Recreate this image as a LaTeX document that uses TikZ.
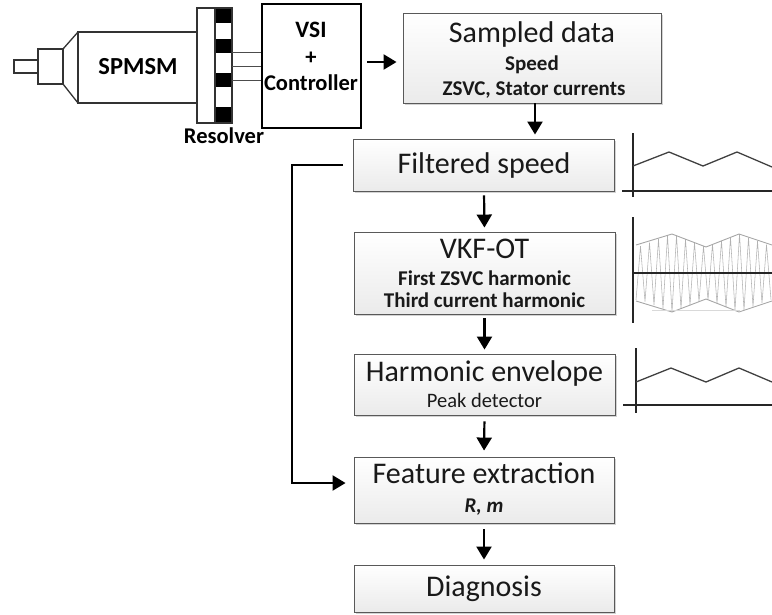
\documentclass[tikz,border=0pt]{standalone}
\usepackage{fontspec}
\setmainfont{Carlito}
\usetikzlibrary{arrows.meta,shadows,calc}

\tikzset{
  stage/.style={draw=gray!70!black, line width=0.9pt, top color=white, bottom color=gray!16,
    drop shadow={shadow xshift=1.6pt, shadow yshift=-1.6pt, opacity=0.35},
    inner sep=0pt, anchor=center},
  title/.style={anchor=base, text=black!90, inner sep=0pt, font=\fontsize{30}{32}\selectfont},
  subbold/.style={anchor=base, text=black!90, inner sep=0pt, font=\fontsize{21}{23}\selectfont\bfseries},
  subplain/.style={anchor=base, text=black!90, inner sep=0pt, font=\fontsize{20.5}{22}\selectfont},
  hwlabel/.style={anchor=base, inner sep=0pt, font=\fontsize{22.5}{24}\selectfont\bfseries},
  arr/.style={line width=2.2pt, -{Triangle[length=13pt,width=15pt]}},
  motorline/.style={draw=black!80, line width=1.3pt},
  axis/.style={line width=1.4pt, black!85},
  trace/.style={line width=1.3pt, black!75, line join=miter},
}

\begin{document}
\begin{tikzpicture}[x=1pt,y=-1pt]
\useasboundingbox (0,0) rectangle (772,614);

% ---------- motor ----------
\draw[motorline] (14,60) rectangle (38,73);
\draw[motorline] (38,49) rectangle (63,84);
\draw[motorline] (63,49) -- (78,32);
\draw[motorline] (63,84) -- (78,103);
\draw[motorline] (78,32) rectangle (197,103);
\node[hwlabel, font=\fontsize{24.5}{26}\selectfont\bfseries] (motorlabel) at (138,74) {SPMSM};

% ---------- resolver ----------
\draw[motorline, fill=white] (197,8) rectangle (215,123);
\draw[motorline, fill=white] (215,8) rectangle (232,123);
\foreach \ya/\yb in {8/23, 39/53, 73/87, 107/123}
  \fill[black] (215,\ya) rectangle (232,\yb);
\draw[motorline] (215,8) rectangle (232,123);
\node[hwlabel] (reslabel) at (224,143) {Resolver};

% ---------- inverter and controller ----------
\node[draw=black, line width=2.2pt, minimum width=99pt, minimum height=124pt, inner sep=0pt]
  (vsi) at (311.5,66) {};
\foreach \yw in {52,66,80}
  \draw[line width=1pt, black!70] (232,\yw) -- (vsi.west |- 0,\yw);
\node[hwlabel, font=\fontsize{23.5}{25}\selectfont\bfseries] (vsit) at (311,37) {VSI};
\node[hwlabel, anchor=center] (plus) at (311,58) {+};
\node[hwlabel] (ctrl) at (311,90) {Controller};

% ---------- processing chain ----------
\node[stage, minimum width=258pt, minimum height=90pt] (sd) at (532,58) {};
\node[title] (sdt) at (532,42) {Sampled data};
\node[subbold] (sd1) at (532,70) {Speed};
\node[subbold] (sd2) at (534,95) {ZSVC, Stator currents};

\node[stage, minimum width=261pt, minimum height=52pt] (fs) at (484,165) {};
\node[title] (fst) at (484,173) {Filtered speed};

\node[stage, minimum width=261pt, minimum height=82pt] (vkf) at (484.5,273) {};
\node[title] (vkft) at (484.5,258) {VKF-OT};
\node[subbold] (vkf1) at (484.5,285) {First ZSVC harmonic};
\node[subbold] (vkf2) at (484.5,307) {Third current harmonic};

\node[stage, minimum width=261pt, minimum height=61pt] (he) at (484.5,384.5) {};
\node[title] (het) at (484.5,381) {Harmonic envelope};
\node[subplain] (he1) at (484.5,407) {Peak detector};

\node[stage, minimum width=260pt, minimum height=66pt] (fe) at (484,490) {};
\node[title] (fet) at (484,483) {Feature extraction};
\node[subbold] (fe1) at (484,512) {\itshape R, m};

\node[stage, minimum width=260pt, minimum height=47pt] (dg) at (484,588.5) {};
\node[title] (dgt) at (484,596) {Diagnosis};

% ---------- connectors ----------
\draw[arr, shorten <=5pt, shorten >=6pt] ([yshift=4pt]vsi.east) -- ([yshift=4pt]vsi.east -| sd.west);
\draw[arr, shorten >=4pt] ([xshift=3pt]sd.south) -- ([xshift=3pt]sd.south |- fs.north);
\draw[arr, shorten <=4pt, shorten >=4pt] (fs.south) -- (vkf.north);
\draw[arr, shorten <=4pt, shorten >=4pt] (vkf.south) -- (he.north);
\draw[arr, shorten <=6pt, shorten >=6pt] (he.south) -- (fe.north);
\draw[arr, shorten <=6pt, shorten >=5pt] (fe.south) -- (dg.north);
\coordinate (fbx) at (292,483);
\draw[arr, line join=miter, shorten <=10pt, shorten >=8pt] (fs.west) -| (fbx) -- (fe.west |- fbx);

% ---------- waveform sketches ----------
% filtered speed
\draw[axis] (633,133) -- (633,197);
\draw[axis] (622,191) -- (772,191);
\draw[trace] (633,166) -- (669,152) -- (703,166) -- (737,152) -- (772,167);

% modulated harmonic
\draw[gray!60, line width=0.55pt]
  plot[samples at={636,640.5,...,771}]
  (\x, {273 + (26+13*abs(2*mod(\x-538,67)/67-1))*cos(40*(\x-636))});
\draw[gray!70, line width=0.9pt] (636,245) -- (672,234) -- (706,247) -- (739,234) -- (772,245);
\draw[gray!70, line width=0.9pt] (636,301) -- (672,312) -- (706,299) -- (739,312) -- (772,301);
\draw[gray!30, line width=0.6pt] (652,310) -- (740,310);
\draw[axis] (633,217) -- (633,323);
\draw[axis] (633,273) -- (772,273);

% envelope
\draw[axis] (636,348) -- (636,413);
\draw[axis] (623,405) -- (772,405);
\draw[trace] (636,382) -- (671,368) -- (706,382) -- (739,368) -- (772,382);
\end{tikzpicture}
\end{document}
